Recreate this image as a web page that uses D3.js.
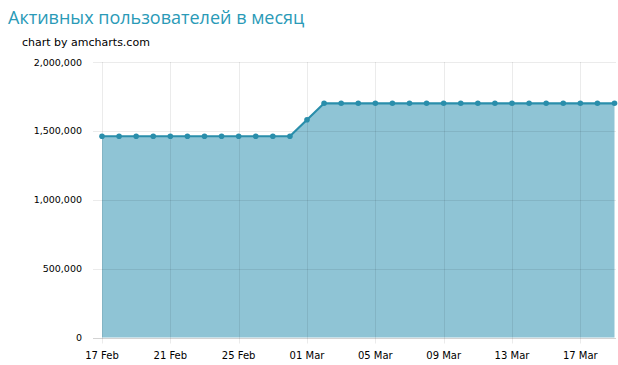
<!DOCTYPE html>
<html><head><meta charset="utf-8">
<script src="https://cdn.jsdelivr.net/npm/d3@7"></script>
<style>body{margin:0;background:#fff}svg{display:block}</style>
</head><body>
<svg id="c" width="618" height="365"></svg>
<script>
const titleText = "Активных пользователей в месяц";
const creditText = "chart by amcharts.com";
const dates = ["2014-02-17","2014-02-18","2014-02-19","2014-02-20","2014-02-21","2014-02-22","2014-02-23","2014-02-24","2014-02-25","2014-02-26","2014-02-27","2014-02-28","2014-03-01","2014-03-02","2014-03-03","2014-03-04","2014-03-05","2014-03-06","2014-03-07","2014-03-08","2014-03-09","2014-03-10","2014-03-11","2014-03-12","2014-03-13","2014-03-14","2014-03-15","2014-03-16","2014-03-17","2014-03-18","2014-03-19"];
const users = [1461000,1461000,1461000,1461000,1461000,1461000,1461000,1461000,1461000,1461000,1461000,1461000,1581000,1700000,1700000,1700000,1700000,1700000,1700000,1700000,1700000,1700000,1700000,1700000,1700000,1700000,1700000,1700000,1700000,1700000,1700000];
const yTicks = [0,500000,1000000,1500000,2000000];
const xTickDates = ["2014-02-17","2014-02-21","2014-02-25","2014-03-01","2014-03-05","2014-03-09","2014-03-13","2014-03-17"];

const parse = d3.utcParse("%Y-%m-%d");
const data = dates.map((d,i)=>({date:parse(d), v:users[i]}));
const svg = d3.select("#c");
const L=102, R=616, T=62, B=337.5;
const x = d3.scaleUtc().domain([parse("2014-02-17"), parse("2014-03-19")]).range([L, 614.5]);
const y = d3.scaleLinear().domain([0,2000000]).range([B,T]);

svg.append("text").attr("x",8).attr("y",24).attr("fill","#2a9ab7")
  .attr("font-family","'Open Sans', sans-serif").attr("font-size",18).text(titleText);
svg.append("text").attr("x",22).attr("y",46).attr("fill","#000")
  .attr("font-family","'DejaVu Sans', sans-serif").attr("font-size",11).text(creditText);

// area
svg.append("path").datum(data).attr("fill","#8fc4d5")
  .attr("d", d3.area().x(d=>x(d.date)).y0(y(0)).y1(d=>y(d.v)));

// grid
const g = svg.append("g");
g.selectAll(".hy").data(yTicks).join("line")
  .attr("x1",93).attr("x2",R).attr("y1",d=>Math.round(y(d))+0.5).attr("y2",d=>Math.round(y(d))+0.5)
  .attr("stroke","#000").attr("stroke-opacity",0.08);
g.selectAll(".vx").data(xTickDates).join("line")
  .attr("x1",d=>Math.round(x(parse(d)))+0.5).attr("x2",d=>Math.round(x(parse(d)))+0.5)
  .attr("y1",T).attr("y2",B+6)
  .attr("stroke","#000").attr("stroke-opacity",0.08);
// x baseline
svg.append("line").attr("x1",93).attr("x2",R).attr("y1",Math.round(B)+0.5).attr("y2",Math.round(B)+0.5)
  .attr("stroke","#000").attr("stroke-opacity",0.1);

// y labels
svg.append("g").selectAll("text").data(yTicks).join("text")
  .attr("x",82).attr("y",d=>y(d)+3.5).attr("text-anchor","end")
  .attr("font-family","'DejaVu Sans', sans-serif").attr("font-size",9.5).attr("fill","#000")
  .text(d=>d3.format(",")(d));
// x labels
svg.append("g").selectAll("text").data(xTickDates).join("text")
  .attr("x",d=>x(parse(d))).attr("y",359).attr("text-anchor","middle")
  .attr("font-family","'DejaVu Sans', sans-serif").attr("font-size",10).attr("fill","#000")
  .text(d=>d3.utcFormat("%d %b")(parse(d)));

// line
svg.append("path").datum(data).attr("fill","none").attr("stroke","#2a8eab").attr("stroke-width",2.2)
  .attr("d", d3.line().x(d=>x(d.date)).y(d=>y(d.v)));
svg.append("g").selectAll("circle").data(data).join("circle")
  .attr("cx",d=>x(d.date)).attr("cy",d=>y(d.v)).attr("r",2.8).attr("fill","#2a8eab");
</script>
</body></html>
